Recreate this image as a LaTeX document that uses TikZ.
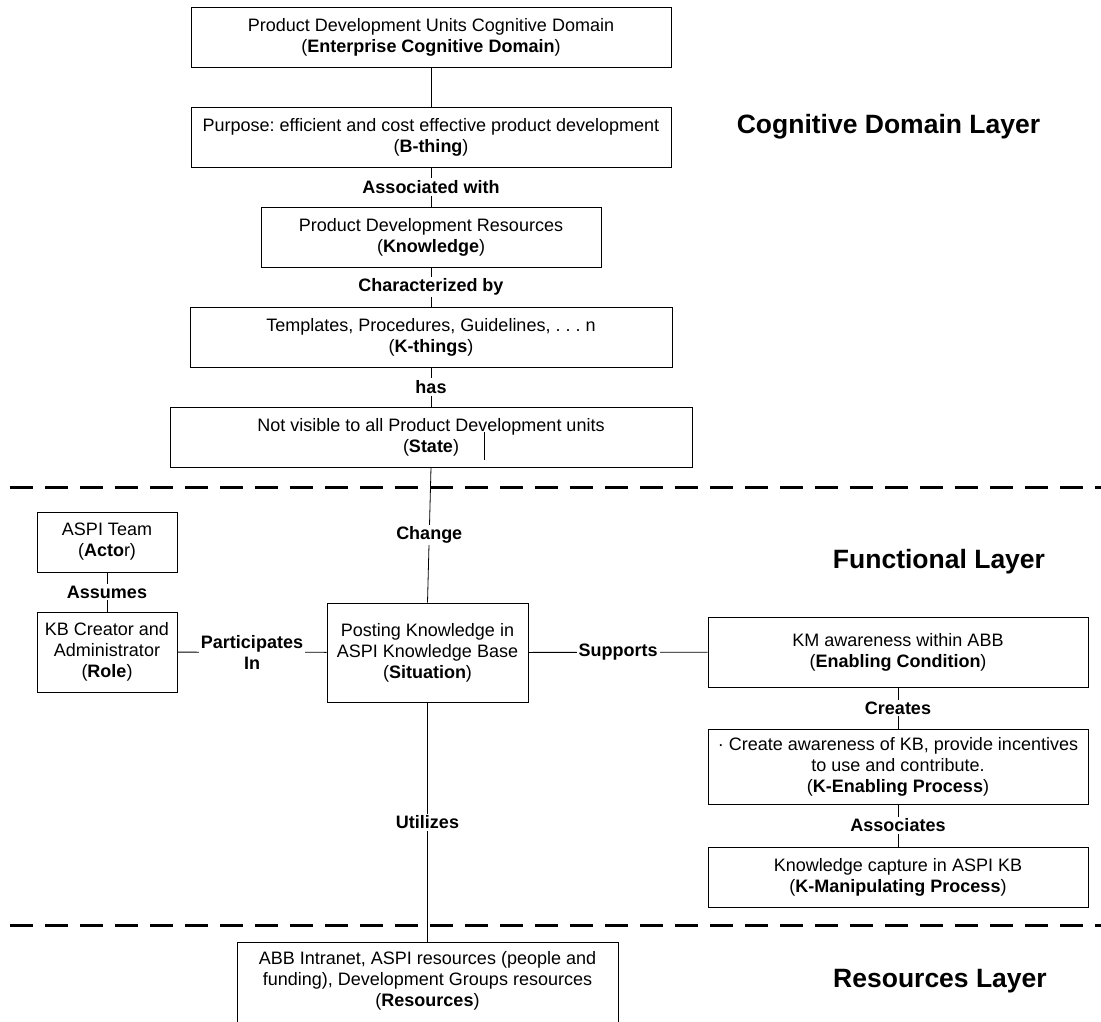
\documentclass[tikz,border=0pt]{standalone}
\usepackage{fontspec}
\setmainfont{Liberation Sans}
\frenchspacing
\newcommand{\mybody}{\fontsize{18}{21}\selectfont}
\newcommand{\mytitle}{\fontsize{26.5}{30}\selectfont\bfseries}
\begin{document}
\begin{tikzpicture}[x=1pt,y=-1pt,
  box/.style={draw, line width=0.8pt, inner sep=0pt, align=center, font=\mybody},
  lbl/.style={fill=white, font=\mybody\bfseries, inner sep=2pt, align=center},
  conn/.style={line width=0.8pt},
  layerline/.style={line width=3pt, dash pattern=on 23pt off 12pt},
  title/.style={font=\mytitle}]
\useasboundingbox (0,0) rectangle (1101,1021);
% layer separators
\coordinate (d1l) at (10,487);
\coordinate (d1r) at (1101,487);
\coordinate (d2l) at (10,925);
\coordinate (d2r) at (1101,925);
\draw[layerline] (d1l) -- (d1r);
\draw[layerline] (d2l) -- (d2r);
% cognitive domain layer
\node[box, minimum width=480, minimum height=60] (ecd) at (431,37)
  {Product Development Units Cognitive Domain\\(\textbf{Enterprise Cognitive Domain})};
\node[box, minimum width=480, minimum height=60] (bthing) at (431,137)
  {Purpose: efficient and cost effective product development\\(\textbf{B-thing})};
\node[box, minimum width=340, minimum height=60] (know) at (431,237)
  {Product Development Resources\\(\textbf{Knowledge})};
\node[box, minimum width=482, minimum height=60] (kthings) at (431,337)
  {Templates, Procedures, Guidelines, . . . n\\(\textbf{K-things})};
\node[box, minimum width=522, minimum height=60] (state) at (431,437)
  {Not visible to all Product Development units\\(\textbf{State})};
\coordinate (s1) at (484,432);
\coordinate (s2) at (484,460);
\draw[conn] (s1) -- (s2);
% functional layer
\node[box, minimum width=140, minimum height=60] (actor) at (107,542)
  {ASPI Team\\(\textbf{Acto}r)};
\node[box, minimum width=140, minimum height=80] (role) at (107,652)
  {KB Creator and\\Administrator\\(\textbf{Role})};
\node[box, minimum width=201, minimum height=99] (sit) at (427.5,652.5)
  {Posting Knowledge in\\ASPI Knowledge Base\\(\textbf{Situation})};
\node[box, minimum width=380, minimum height=70] (enab) at (898,652)
  {KM awareness within ABB\\(\textbf{Enabling Condition})};
\node[box, minimum width=380, minimum height=75] (kenab) at (898,766.5)
  {\textperiodcentered{} Create awareness of KB, provide incentives\\to use and contribute.\\(\textbf{K-Enabling Process})};
\node[box, minimum width=380, minimum height=60] (kmanip) at (898,877)
  {Knowledge capture in ASPI KB\\(\textbf{K-Manipulating Process})};
% resources layer
\node[draw, line width=0.8pt, minimum width=381, minimum height=120, anchor=north] (res) at (427.5,942) {};
\node[align=center, font=\mybody, inner sep=0pt] (restext) at (427.5,981)
  {ABB Intranet, ASPI resources (people and\\funding), Development Groups resources\\(\textbf{Resources})};
% connectors
\draw[conn] (ecd) -- (bthing);
\draw[conn] (bthing) -- node[lbl] {Associated with} (know);
\draw[conn] (know) -- node[lbl] {Characterized by} (kthings);
\draw[conn] (kthings) -- node[lbl] {has} (state);
\draw[conn] (state.south) -- node[lbl] {Change} (sit.north);
\draw[conn] (actor) -- node[lbl] {Assumes} (role);
\draw[conn] (role) -- node[lbl] {Participates\\In} (sit);
\draw[conn] (sit) -- node[lbl] {Supports} (enab);
\draw[conn] (enab) -- node[lbl] {Creates} (kenab);
\draw[conn] (kenab) -- node[lbl] {Associates} (kmanip);
\draw[conn] (sit.south) -- node[lbl] {Utilizes} (res.north);
% layer titles
\node[title] (t1) at (888.5,127) {Cognitive Domain Layer};
\node[title] (t2) at (939,562) {Functional Layer};
\node[title] (t3) at (940,981) {Resources Layer};
\end{tikzpicture}
\end{document}
